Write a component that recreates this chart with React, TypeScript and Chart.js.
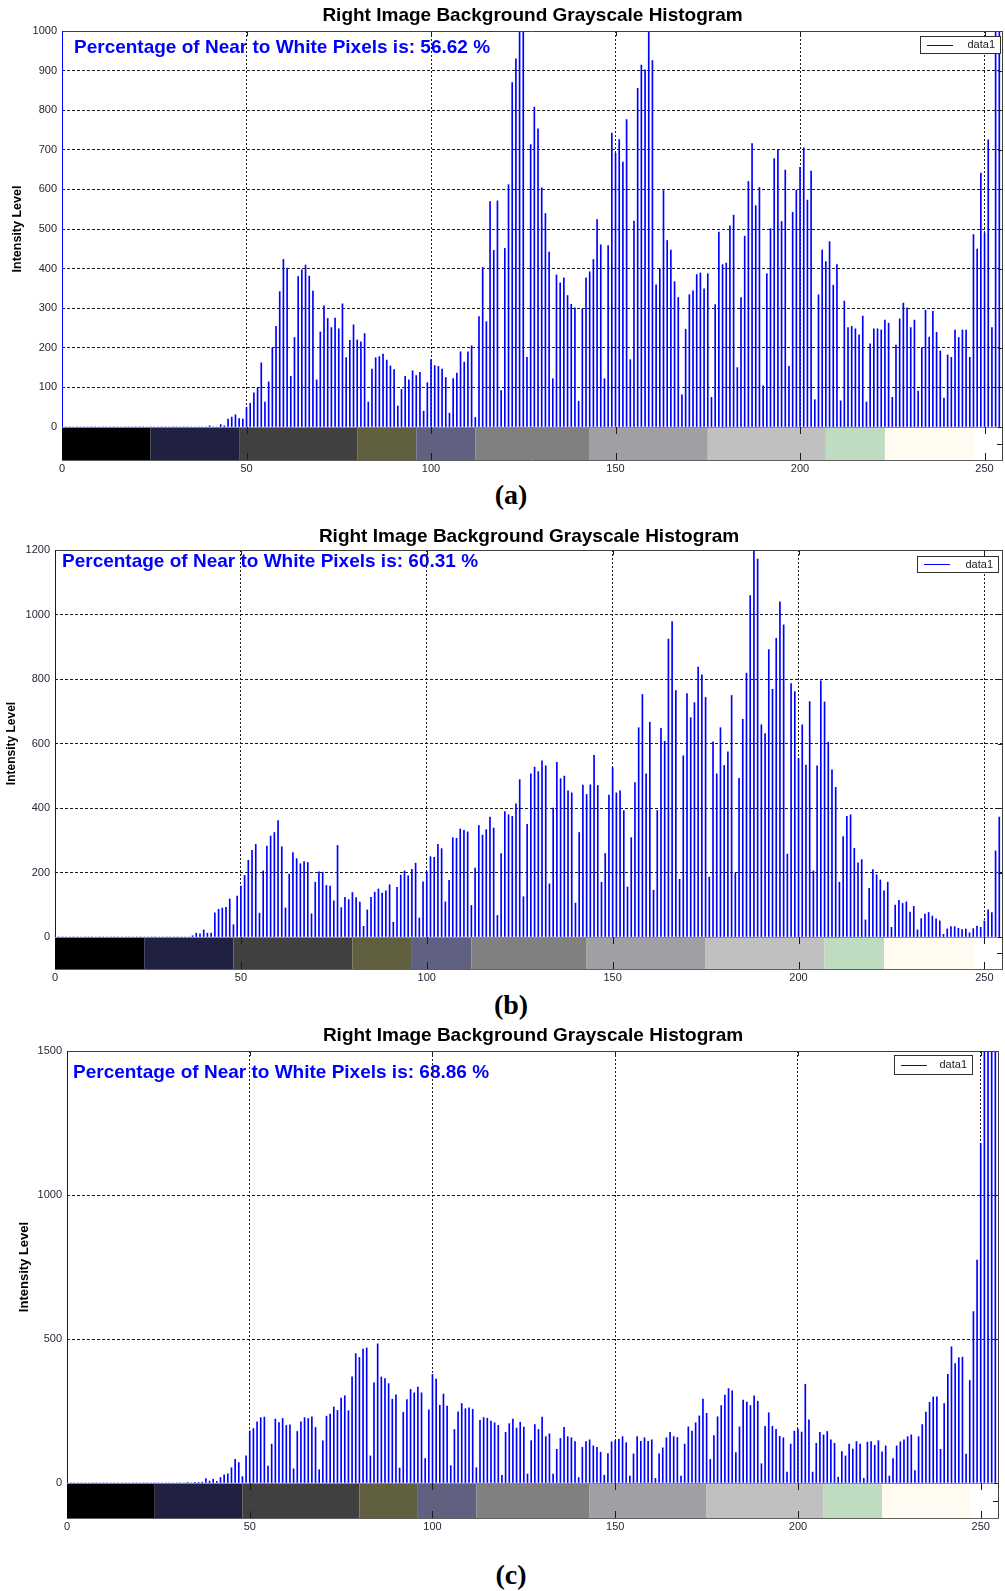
import React, { useEffect, useRef } from 'react';
import { Chart, registerables } from 'chart.js';

Chart.register(...registerables);

const SANS = '"Liberation Sans", Arial, sans-serif';
const SERIF = '"Liberation Serif", "Times New Roman", serif';
Chart.defaults.font.family = SANS;

// ---------------- data ----------------
const TITLE = 'Right Image Background Grayscale Histogram';
const Y_AXIS_TITLE = 'Intensity Level';
const SERIES_LABEL = 'data1';
const NOTE_PREFIX = 'Percentage of Near to White Pixels is: ';
const CAPTIONS = ['(a)', '(b)', '(c)'];
const PERCENTAGES = ['56.62', '60.31', '68.86'];

const X_TICKS = [0, 50, 100, 150, 200, 250];
const Y_TICKS_A = [0, 100, 200, 300, 400, 500, 600, 700, 800, 900, 1000];
const Y_TICKS_B = [0, 200, 400, 600, 800, 1000, 1200];
const Y_TICKS_C = [0, 500, 1000, 1500];
const Y_MAX = [1000, 1200, 1500];
const X_MAX = 255;

const COLORBAR_STOPS = [0, 24, 48, 80, 96, 112, 143, 175, 207, 223, 247, 255];
const COLORBAR_COLORS = ['#000000', '#202040', '#404040', '#606040', '#606080', '#808080', '#a0a0a4', '#c0c0c0', '#c0dcc0', '#fffbf0', '#ffffff'];

// intensity 0..255
const HIST_A = [
  0, 0, 0, 0, 0, 0, 0, 0, 0, 0,
  0, 0, 0, 0, 0, 0, 0, 0, 0, 0,
  0, 0, 0, 0, 0, 0, 0, 0, 0, 0,
  0, 0, 0, 0, 0, 0, 0, 0, 0, 0,
  3, 0, 0, 6, 3, 20, 25, 31, 21, 20,
  50, 60, 86, 98, 162, 63, 114, 200, 254, 342,
  423, 401, 128, 226, 380, 397, 409, 381, 343, 119,
  240, 306, 274, 251, 275, 248, 311, 175, 219, 258,
  220, 215, 236, 63, 146, 175, 178, 184, 169, 154,
  145, 53, 95, 128, 119, 142, 130, 138, 40, 112,
  170, 155, 153, 146, 125, 35, 122, 136, 190, 164,
  190, 205, 24, 279, 403, 266, 569, 446, 571, 92,
  451, 612, 870, 930, 1080, 1150, 176, 713, 808, 753,
  604, 539, 442, 122, 384, 364, 377, 332, 310, 301,
  65, 298, 377, 392, 423, 524, 460, 122, 458, 742,
  691, 726, 669, 776, 170, 520, 855, 914, 902, 1050,
  925, 359, 400, 597, 471, 447, 367, 327, 81, 247,
  334, 344, 385, 389, 349, 387, 75, 309, 492, 410,
  414, 508, 535, 150, 327, 482, 620, 716, 559, 605,
  104, 387, 501, 678, 700, 519, 649, 153, 542, 598,
  656, 705, 573, 646, 69, 334, 447, 418, 468, 358,
  410, 66, 318, 251, 254, 248, 233, 280, 63, 210,
  248, 248, 245, 270, 262, 75, 207, 273, 313, 301,
  251, 270, 91, 200, 295, 227, 292, 239, 192, 73,
  182, 176, 245, 226, 245, 245, 176, 486, 449, 641,
  490, 725, 251, 1300, 1500, 0,
];

const HIST_B = [
  0, 0, 0, 0, 0, 0, 0, 0, 0, 0,
  0, 0, 0, 0, 0, 0, 0, 0, 0, 0,
  0, 0, 0, 0, 0, 0, 0, 0, 0, 0,
  0, 0, 0, 0, 0, 0, 0, 4, 12, 10,
  22, 12, 12, 75, 86, 90, 92, 118, 38, 127,
  158, 191, 238, 269, 287, 74, 205, 282, 313, 324,
  361, 280, 90, 195, 262, 243, 227, 234, 231, 72,
  170, 202, 201, 160, 158, 112, 284, 91, 123, 116,
  138, 122, 108, 33, 84, 123, 139, 149, 136, 143,
  162, 46, 154, 192, 205, 190, 210, 229, 59, 171,
  202, 249, 247, 287, 274, 109, 176, 308, 306, 335,
  331, 326, 98, 214, 346, 316, 333, 372, 338, 67,
  259, 389, 379, 374, 413, 488, 125, 349, 506, 527,
  513, 546, 531, 165, 400, 542, 491, 499, 453, 447,
  105, 324, 471, 442, 472, 563, 470, 170, 259, 440,
  525, 447, 453, 392, 155, 308, 479, 649, 752, 506,
  666, 145, 392, 647, 607, 924, 978, 764, 179, 562,
  755, 680, 727, 837, 813, 743, 186, 605, 506, 649,
  532, 574, 749, 199, 492, 675, 818, 1059, 1210, 1172,
  658, 631, 891, 768, 926, 1039, 968, 257, 786, 761,
  554, 658, 533, 730, 205, 531, 794, 729, 604, 518,
  464, 170, 311, 374, 379, 275, 230, 240, 53, 151,
  209, 193, 177, 143, 170, 30, 99, 114, 104, 109,
  77, 95, 22, 57, 71, 76, 65, 56, 50, 8,
  25, 32, 32, 27, 23, 25, 13, 26, 34, 30,
  50, 84, 76, 267, 372, 0,
];

const HIST_C = [
  0, 0, 0, 0, 0, 0, 0, 0, 0, 0,
  0, 0, 0, 0, 0, 0, 0, 0, 0, 0,
  0, 0, 0, 0, 0, 0, 0, 0, 0, 0,
  0, 0, 0, 2, 0, 2, 2, 3, 15, 7,
  13, 6, 19, 28, 32, 53, 82, 71, 22, 94,
  181, 189, 212, 227, 229, 59, 135, 222, 210, 224,
  200, 202, 49, 179, 212, 227, 224, 230, 193, 46,
  146, 232, 239, 264, 252, 295, 303, 251, 369, 449,
  436, 465, 469, 94, 348, 483, 368, 363, 345, 291,
  306, 52, 245, 290, 325, 313, 333, 313, 85, 254,
  377, 361, 270, 309, 267, 60, 186, 247, 276, 258,
  261, 256, 53, 218, 227, 225, 215, 209, 200, 27,
  176, 206, 222, 191, 211, 194, 31, 147, 203, 186,
  229, 161, 171, 31, 117, 155, 193, 161, 157, 144,
  19, 124, 144, 150, 129, 124, 107, 27, 102, 143,
  147, 152, 161, 140, 24, 101, 161, 145, 157, 145,
  150, 16, 101, 122, 157, 176, 161, 158, 24, 135,
  195, 180, 209, 233, 291, 242, 82, 165, 230, 269,
  305, 328, 320, 106, 195, 288, 281, 269, 303, 284,
  67, 197, 244, 197, 186, 162, 157, 38, 135, 180,
  187, 177, 343, 219, 38, 138, 176, 167, 179, 150,
  138, 20, 109, 94, 135, 118, 144, 135, 16, 142,
  144, 131, 147, 108, 129, 24, 85, 129, 143, 150,
  161, 167, 43, 161, 203, 246, 280, 299, 299, 117,
  276, 377, 473, 415, 435, 437, 100, 356, 595, 774,
  1179, 1800, 2400, 2600, 2100, 756,
];

const HISTS = [HIST_A, HIST_B, HIST_C];
const Y_TICKS = [Y_TICKS_A, Y_TICKS_B, Y_TICKS_C];

// ---------------- layout (pixels, per panel canvas) ----------------
const PANEL_LAYOUTS = [
  { top: 0, height: 478, left: 62, right: 1003, plotTop: 31, plotBottom: 427, cbH: 33, titleY: 16, noteX: 74, noteY: 48, yTitleX: 18, yTitleSize: 12.5, legend: { x: 920, y: 36, w: 81, h: 18 }, captionY: 496 },
  { top: 510, height: 478, left: 55, right: 1003, plotTop: 40, plotBottom: 427, cbH: 32, titleY: 27, noteX: 62, noteY: 52, yTitleX: 12, yTitleSize: 12, legend: { x: 917, y: 46, w: 82, h: 17 }, captionY: 1006 },
  { top: 1010, height: 530, left: 67, right: 999, plotTop: 41, plotBottom: 473, cbH: 35, titleY: 26, noteX: 73, noteY: 63, yTitleX: 24, yTitleSize: 13, legend: { x: 894, y: 45, w: 79, h: 20 }, captionY: 1576 },
];

const TICK_COLOR = '#262636';
const GRID_COLOR = '#1a1a1a';

function Panel({ index }: { index: number }) {
  const ref = useRef<HTMLCanvasElement | null>(null);
  const L = PANEL_LAYOUTS[index];
  const yMax = Y_MAX[index];
  const values = HISTS[index];
  const yTicks = Y_TICKS[index];

  useEffect(() => {
    if (!ref.current) return;
    const hline = (ctx: CanvasRenderingContext2D, x0: number, x1: number, y: number) => {
      const yy = Math.round(y) + 0.5;
      ctx.beginPath();
      ctx.moveTo(x0, yy);
      ctx.lineTo(x1, yy);
      ctx.stroke();
    };
    const vline = (ctx: CanvasRenderingContext2D, x: number, y0: number, y1: number) => {
      const xx = Math.round(x) + 0.5;
      ctx.beginPath();
      ctx.moveTo(xx, y0);
      ctx.lineTo(xx, y1);
      ctx.stroke();
    };

    const decor = {
      id: 'matlabDecor',
      beforeDraw(chart: any) {
        const ctx = chart.ctx as CanvasRenderingContext2D;
        ctx.save();
        ctx.font = `bold 19px ${SANS}`;
        ctx.fillStyle = '#0000ff';
        ctx.textAlign = 'left';
        ctx.textBaseline = 'middle';
        ctx.fillText(`${NOTE_PREFIX}${PERCENTAGES[index]} %`, L.noteX, L.noteY);
        ctx.restore();
      },
      afterDraw(chart: any) {
        const ctx = chart.ctx as CanvasRenderingContext2D;
        const a = chart.chartArea;
        const xs = chart.scales.x;
        const ys = chart.scales.y;
        ctx.save();
        // colorbar
        for (let i = 0; i < COLORBAR_COLORS.length; i++) {
          const x0 = xs.getPixelForValue(COLORBAR_STOPS[i]);
          const x1 = xs.getPixelForValue(COLORBAR_STOPS[i + 1]);
          ctx.fillStyle = COLORBAR_COLORS[i];
          ctx.fillRect(x0, a.bottom, x1 - x0, L.cbH);
        }
        ctx.lineWidth = 1;
        ctx.strokeStyle = '#8a8a8a';
        hline(ctx, a.left, a.right, a.bottom);
        ctx.strokeStyle = '#606060';
        hline(ctx, a.left, a.right, a.bottom + L.cbH);
        // colorbar tick marks
        ctx.strokeStyle = '#1a1a1a';
        X_TICKS.forEach((v) => {
          if (v === 0) return;
          const px = xs.getPixelForValue(v);
          vline(ctx, px, a.bottom, a.bottom + 7);
          vline(ctx, px, a.bottom + L.cbH - 7, a.bottom + L.cbH);
          vline(ctx, px, a.top, a.top + 5);
        });
        hline(ctx, a.right - 6, a.right, a.bottom + L.cbH / 2);
        // right-side y ticks
        yTicks.forEach((v) => {
          const py = ys.getPixelForValue(v);
          hline(ctx, a.right - 5, a.right, py);
        });
        // frame
        ctx.strokeStyle = '#404040';
        hline(ctx, a.left, a.right, a.top);
        vline(ctx, a.right - 1, a.top, a.bottom + L.cbH);
        ctx.strokeStyle = '#0000ff';
        vline(ctx, a.left, a.top, a.bottom);

        // legend
        const lg = L.legend;
        ctx.fillStyle = '#ffffff';
        ctx.fillRect(lg.x, lg.y, lg.w, lg.h);
        ctx.strokeStyle = '#303030';
        ctx.strokeRect(lg.x + 0.5, lg.y + 0.5, lg.w - 1, lg.h - 1);
        ctx.strokeStyle = '#0000ff';
        hline(ctx, lg.x + 7, lg.x + 33, lg.y + lg.h / 2 - 0.5);
        ctx.fillStyle = '#202020';
        ctx.font = `11px ${SANS}`;
        ctx.textAlign = 'right';
        ctx.textBaseline = 'middle';
        ctx.fillText(chart.data.datasets[0].label, lg.x + lg.w - 6, lg.y + lg.h / 2);

        // title
        ctx.fillStyle = '#000000';
        ctx.font = `bold 19px ${SANS}`;
        ctx.textAlign = 'center';
        ctx.textBaseline = 'middle';
        ctx.fillText(TITLE, (a.left + a.right) / 2, L.titleY);

        // y axis title
        ctx.translate(L.yTitleX, (a.top + a.bottom) / 2);
        ctx.rotate(-Math.PI / 2);
        ctx.font = `bold ${L.yTitleSize}px ${SANS}`;
        ctx.fillText(Y_AXIS_TITLE, 0, 0);
        ctx.restore();
      },
    };

    const chart = new Chart(ref.current, {
      type: 'bar',
      data: {
        datasets: [
          {
            label: SERIES_LABEL,
            data: values.map((y, x) => ({ x, y })),
            backgroundColor: '#0000ff',
            borderWidth: 0,
            barThickness: 1,
            grouped: false,
          } as any,
        ],
      },
      options: {
        responsive: false,
        animation: false,
        devicePixelRatio: 1,
        events: [],
        layout: { padding: { top: L.plotTop, right: 1005 - L.right, left: 0, bottom: 0 } },
        plugins: {
          legend: { display: false },
          title: { display: false },
          tooltip: { enabled: false },
        },
        scales: {
          x: {
            type: 'linear',
            min: 0,
            max: X_MAX,
            offset: false,
            grid: {
              offset: false,
              drawTicks: false,
              lineWidth: 1,
              color: (c: any) => (c.tick && c.tick.value === 0 ? 'rgba(0,0,0,0)' : GRID_COLOR),
            },
            border: { display: false, dash: [2, 2] },
            ticks: {
              padding: L.cbH + 2,
              color: TICK_COLOR,
              font: { size: 11 },
              maxRotation: 0,
              autoSkip: false,
              callback: (v: any) => String(v),
            },
            afterBuildTicks: (axis: any) => {
              axis.ticks = X_TICKS.map((v) => ({ value: v }));
            },
            afterFit: (axis: any) => {
              axis.height = L.height - L.plotBottom;
              axis.paddingLeft = 0;
              axis.paddingRight = 0;
            },
          },
          y: {
            type: 'linear',
            min: 0,
            max: yMax,
            grid: {
              drawTicks: false,
              lineWidth: 1,
              color: (c: any) => (c.tick && (c.tick.value === 0 || c.tick.value === yMax) ? 'rgba(0,0,0,0)' : GRID_COLOR),
            },
            border: { display: false, dash: [3, 2] },
            ticks: {
              padding: 5,
              color: TICK_COLOR,
              font: { size: 11 },
              autoSkip: false,
              callback: (v: any) => String(v),
            },
            afterBuildTicks: (axis: any) => {
              axis.ticks = yTicks.map((v) => ({ value: v }));
            },
            afterFit: (axis: any) => {
              axis.width = L.left;
              axis.paddingTop = 0;
              axis.paddingBottom = 0;
            },
          },
        },
      } as any,
      plugins: [decor],
    });
    return () => chart.destroy();
  }, []);

  return (
    <canvas
      ref={ref}
      width={1005}
      height={L.height}
      style={{ position: 'absolute', left: 0, top: L.top, width: 1005, height: L.height }}
    />
  );
}

export default function App() {
  return (
    <div style={{ position: 'absolute', left: 0, top: 0, width: 1005, height: 1591, background: '#ffffff', overflow: 'hidden' }}>
      {PANEL_LAYOUTS.map((L, i) => (
        <React.Fragment key={i}>
          <Panel index={i} />
          <div
            style={{
              position: 'absolute',
              left: 411,
              width: 200,
              top: L.captionY - 17,
              height: 34,
              lineHeight: '34px',
              textAlign: 'center',
              font: `bold 28px ${SERIF}`,
              color: '#000',
            }}
          >
            {CAPTIONS[i]}
          </div>
        </React.Fragment>
      ))}
    </div>
  );
}
